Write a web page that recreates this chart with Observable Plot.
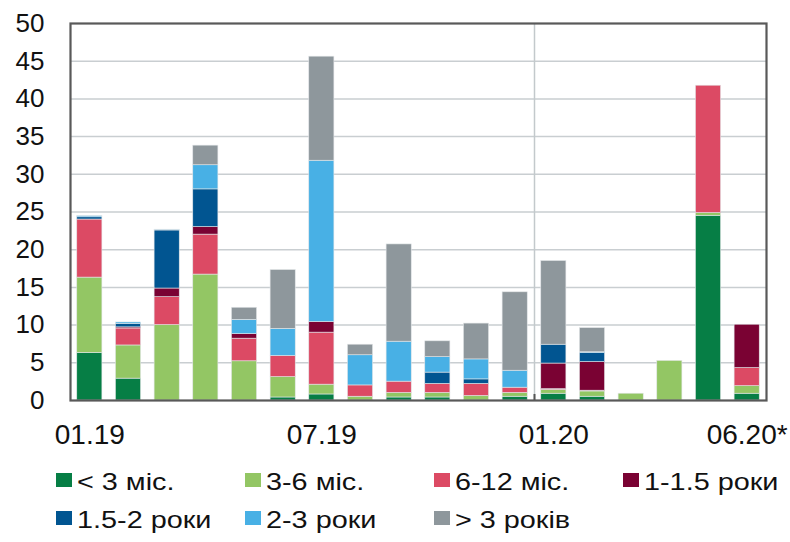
<!DOCTYPE html>
<html>
<head>
<meta charset="utf-8">
<script src="https://cdn.jsdelivr.net/npm/d3@7"></script>
<script src="https://cdn.jsdelivr.net/npm/@observablehq/plot@0.6"></script>
<style>
  body { margin: 0; background: #fff; font-family: "Liberation Sans", Arial, sans-serif; }
  #legend { width: 790px; padding-left: 56px; box-sizing: border-box; }
  .row { height: 38px; line-height: 38px; white-space: nowrap; }
  .item { display: inline-block; width: 189px; vertical-align: top; }
  .sw { display: inline-block; width: 16px; height: 14px; vertical-align: middle; margin-right: 5px; position: relative; top: -2px; }
  .lab { display: inline-block; font-size: 24px; color: #111; transform: scaleX(1.2); transform-origin: left center; vertical-align: middle; }
</style>
</head>
<body>
<div id="chart"></div>
<div id="legend"></div>
<script>
const months = ["01.19","02.19","03.19","04.19","05.19","06.19","07.19","08.19","09.19","10.19","11.19","12.19","01.20","02.20","03.20","04.20","05.20","06.20"];
const series = ["< 3 міс.","3-6 міс.","6-12 міс.","1-1.5 роки","1.5-2 роки","2-3 роки","> 3 років"];
const colors = ["#067e45","#93c664","#dc4a64","#7a0233","#015591","#48b0e5","#8e979c"];

const lt3   = [6.3, 2.9, 0,    0,    0,   0.4, 0.8,  0,   0.4, 0.4, 0,    0.5,  0.9, 0.5, 0,   0,    24.5, 0.9];
const m3_6  = [10.0,4.4, 10.0, 16.7, 5.2, 2.7, 1.3,  0.5, 0.6, 0.6, 0.6,  0.5,  0.5, 0.7, 0.9, 5.25, 0.35, 1.0];
const m6_12 = [7.7, 2.25,3.7,  5.3,  3.0, 2.8, 6.9,  1.5, 1.5, 1.2, 1.6,  0.7,  0.1, 0.1, 0,   0,    16.9, 2.4];
const y1_15 = [0,   0.15,1.15, 1.0,  0.6, 0,   1.4,  0,   0,   0,   0,    0,    3.4, 3.8, 0,   0,    0,    5.75];
const y15_2 = [0.3, 0.45,7.7,  5.0,  0,   0,   0,    0,   0,   1.5, 0.6,  0,    2.5, 1.2, 0,   0,    0,    0];
const y2_3  = [0.15,0.2, 0.1,  3.2,  1.9, 3.6, 21.4, 4.0, 5.3, 2.05,2.65, 2.25, 0,   0.1, 0,   0,    0,    0];
const gt3   = [0,   0,   0,    2.6,  1.6, 7.8, 13.8, 1.4, 12.9,2.1, 4.75, 10.4, 11.1,3.2, 0,   0,    0,    0];

const xTicks = ["01.19","07.19","01.20","06.20"];
const xTickLabels = {"01.19":"01.19","07.19":"07.19","01.20":"01.20","06.20":"06.20*"};
const yTicks = [0,5,10,15,20,25,30,35,40,45,50];
const gridY = [5,10,15,20,25,30,35,40,45];
const yearBreak = ["01.20"];

const valuesBySeries = [lt3, m3_6, m6_12, y1_15, y15_2, y2_3, gt3];
const data = series.flatMap((s, si) => months.map((m, mi) => ({month: m, series: s, value: valuesBySeries[si][mi]})));

const W = 790, H = 462, mL = 70, mR = 24, mT = 23, mB = 62;
const step = (W - mL - mR) / months.length;

const plot = Plot.plot({
  width: W, height: H,
  marginLeft: mL, marginRight: mR, marginTop: mT, marginBottom: mB,
  style: {fontFamily: "'Liberation Sans', Arial, sans-serif", color: "#111", background: "#fff"},
  x: {domain: months, paddingInner: 0.35, paddingOuter: 0.175, round: false, label: null},
  y: {domain: [0, 50], label: null},
  color: {domain: series, range: colors},
  marks: [
    Plot.ruleY(gridY, {stroke: "#c9ced1", strokeWidth: 1.5}),
    Plot.ruleX(yearBreak, {dx: -step / 2, stroke: "#c3c9cc", strokeWidth: 1.5}),
    Plot.barY(data, Plot.stackY({order: series}, {x: "month", y: "value", fill: "series", z: "series", stroke: "#e3e6e8", strokeWidth: 0.6})),
    Plot.ruleX(yearBreak, {dx: -step / 2, y1: 0, y2: 0.8, stroke: "#555", strokeWidth: 2}),
    Plot.frame({stroke: "#595959", strokeWidth: 2.2}),
    Plot.axisY({ticks: yTicks, tickSize: 0, tickPadding: 26, fontSize: 26, label: null}),
    Plot.axisX({ticks: xTicks, tickSize: 0, tickPadding: 24, fontSize: 28, label: null, tickFormat: d => xTickLabels[d]})
  ]
});
document.getElementById("chart").appendChild(plot);

const legend = document.getElementById("legend");
const rows = [series.slice(0, 4), series.slice(4)];
rows.forEach(r => {
  const row = document.createElement("div");
  row.className = "row";
  r.forEach(s => {
    const it = document.createElement("span");
    it.className = "item";
    const sw = document.createElement("span");
    sw.className = "sw";
    sw.style.background = colors[series.indexOf(s)];
    const lab = document.createElement("span");
    lab.className = "lab";
    lab.textContent = s;
    it.appendChild(sw); it.appendChild(lab);
    row.appendChild(it);
  });
  legend.appendChild(row);
});
</script>
</body>
</html>
